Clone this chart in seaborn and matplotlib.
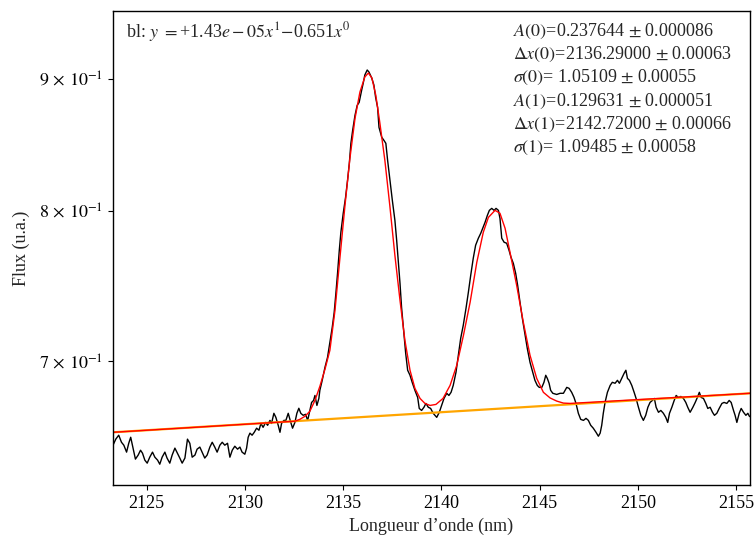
import numpy as np
import pandas as pd
import seaborn as sns
import matplotlib
matplotlib.use("Agg")
from matplotlib import pyplot as plt
from matplotlib.ticker import NullLocator

wl = [2123.28, 2123.42, 2123.57, 2123.71, 2123.83, 2123.97, 2124.08, 2124.18, 2124.30, 2124.42,
      2124.56, 2124.68, 2124.78, 2124.90, 2125.02, 2125.15, 2125.29, 2125.41, 2125.55, 2125.66,
      2125.78, 2125.92, 2126.03, 2126.17, 2126.29, 2126.43, 2126.56, 2126.68, 2126.80, 2126.94,
      2127.07, 2127.19, 2127.31, 2127.45, 2127.56, 2127.70, 2127.84, 2127.95, 2128.07, 2128.21,
      2128.33, 2128.46, 2128.58, 2128.72, 2128.84, 2128.97, 2129.11, 2129.23, 2129.35, 2129.48,
      2129.62, 2129.74, 2129.85, 2129.99, 2130.08, 2130.16, 2130.25, 2130.36, 2130.47, 2130.59,
      2130.71, 2130.81, 2130.92, 2131.05, 2131.15, 2131.27, 2131.35, 2131.47, 2131.57, 2131.69,
      2131.78, 2131.86, 2131.98, 2132.08, 2132.20, 2132.30, 2132.42, 2132.54, 2132.64, 2132.74,
      2132.84, 2132.96, 2133.08, 2133.19, 2133.27, 2133.39, 2133.49, 2133.56, 2133.66, 2133.76,
      2133.81, 2133.93, 2134.07, 2134.20, 2134.32, 2134.44, 2134.54, 2134.63, 2134.71, 2134.80,
      2134.88, 2135.00, 2135.12, 2135.22, 2135.31, 2135.39, 2135.48, 2135.60, 2135.71, 2135.81,
      2135.94, 2136.02, 2136.10, 2136.22, 2136.31, 2136.45, 2136.56, 2136.65, 2136.75, 2136.82,
      2136.96, 2137.07, 2137.17, 2137.26, 2137.38, 2137.50, 2137.63, 2137.72, 2137.80, 2137.89,
      2137.97, 2138.09, 2138.18, 2138.28, 2138.40, 2138.51, 2138.65, 2138.79, 2138.87, 2138.99,
      2139.11, 2139.21, 2139.33, 2139.45, 2139.58, 2139.76, 2139.89, 2140.01, 2140.13, 2140.27,
      2140.38, 2140.49, 2140.60, 2140.74, 2140.86, 2140.98, 2141.11, 2141.25, 2141.37, 2141.49,
      2141.62, 2141.74, 2141.88, 2142.00, 2142.10, 2142.22, 2142.34, 2142.44, 2142.56, 2142.68,
      2142.78, 2142.90, 2142.98, 2143.07, 2143.19, 2143.32, 2143.44, 2143.54, 2143.66, 2143.78,
      2143.88, 2144.00, 2144.12, 2144.26, 2144.37, 2144.51, 2144.65, 2144.76, 2144.88, 2144.98,
      2145.11, 2145.22, 2145.31, 2145.39, 2145.48, 2145.56, 2145.67, 2145.87, 2146.04, 2146.21,
      2146.38, 2146.50, 2146.63, 2146.75, 2146.85, 2146.97, 2147.09, 2147.23, 2147.36, 2147.48,
      2147.60, 2147.73, 2147.87, 2147.99, 2148.08, 2148.16, 2148.24, 2148.33, 2148.45, 2148.59,
      2148.70, 2148.84, 2148.96, 2149.06, 2149.18, 2149.30, 2149.39, 2149.47, 2149.57, 2149.69,
      2149.81, 2149.91, 2150.03, 2150.15, 2150.28, 2150.40, 2150.51, 2150.62, 2150.74, 2150.84,
      2150.93, 2151.05, 2151.17, 2151.30, 2151.42, 2151.52, 2151.61, 2151.73, 2151.85, 2151.95,
      2152.06, 2152.19, 2152.32, 2152.44, 2152.54, 2152.66, 2152.80, 2152.92, 2153.03, 2153.13,
      2153.22, 2153.34, 2153.46, 2153.56, 2153.68, 2153.80, 2153.90, 2154.02, 2154.14, 2154.28,
      2154.39, 2154.53, 2154.65, 2154.75, 2154.87, 2154.95, 2155.04, 2155.16, 2155.26, 2155.38,
      2155.50, 2155.60, 2155.68, 2155.80]
flux = [0.6497, 0.6532, 0.6555, 0.6514, 0.6497, 0.6457, 0.6508, 0.6543, 0.6480, 0.6417,
        0.6440, 0.6468, 0.6451, 0.6411, 0.6394, 0.6428, 0.6457, 0.6428, 0.6411, 0.6388,
        0.6428, 0.6457, 0.6423, 0.6394, 0.6440, 0.6480, 0.6451, 0.6423, 0.6394, 0.6423,
        0.6532, 0.6508, 0.6428, 0.6440, 0.6474, 0.6486, 0.6451, 0.6423, 0.6440, 0.6486,
        0.6514, 0.6486, 0.6457, 0.6497, 0.6514, 0.6497, 0.6508, 0.6428, 0.6468, 0.6491,
        0.6474, 0.6486, 0.6457, 0.6445, 0.6480, 0.6543, 0.6567, 0.6555, 0.6572, 0.6596,
        0.6584, 0.6624, 0.6601, 0.6630, 0.6613, 0.6642, 0.6624, 0.6684, 0.6660, 0.6613,
        0.6572, 0.6624, 0.6642, 0.6642, 0.6684, 0.6642, 0.6596, 0.6630, 0.6684, 0.6714,
        0.6684, 0.6672, 0.6678, 0.6642, 0.6684, 0.6749, 0.6761, 0.6791, 0.6731, 0.6773,
        0.6822, 0.6883, 0.6963, 0.7025, 0.7120, 0.7215, 0.7312, 0.7443, 0.7570, 0.7728,
        0.7852, 0.7986, 0.8101, 0.8224, 0.8349, 0.8499, 0.8598, 0.8714, 0.8791, 0.8814,
        0.8912, 0.8968, 0.9032, 0.9072, 0.9056, 0.9008, 0.8952, 0.8853, 0.8775, 0.8621,
        0.8545, 0.8522, 0.8499, 0.8371, 0.8224, 0.8079, 0.7937, 0.7797, 0.7659, 0.7504,
        0.7345, 0.7177, 0.7050, 0.6945, 0.6914, 0.6871, 0.6822, 0.6779, 0.6713, 0.6701,
        0.6720, 0.6743, 0.6720, 0.6713, 0.6684, 0.6660, 0.6690, 0.6731, 0.6773, 0.6804,
        0.6791, 0.6810, 0.6852, 0.6932, 0.7038, 0.7145, 0.7228, 0.7338, 0.7443, 0.7557,
        0.7673, 0.7762, 0.7811, 0.7845, 0.7880, 0.7922, 0.7972, 0.8007, 0.8021, 0.8007,
        0.8021, 0.8007, 0.7950, 0.7811, 0.7783, 0.7776, 0.7728, 0.7680, 0.7638, 0.7570,
        0.7490, 0.7378, 0.7273, 0.7164, 0.7082, 0.6994, 0.6932, 0.6883, 0.6852, 0.6840,
        0.6840, 0.6871, 0.6914, 0.6895, 0.6865, 0.6822, 0.6804, 0.6797, 0.6804, 0.6804,
        0.6840, 0.6834, 0.6810, 0.6779, 0.6743, 0.6684, 0.6648, 0.6642, 0.6654, 0.6642,
        0.6613, 0.6596, 0.6572, 0.6549, 0.6567, 0.6613, 0.6684, 0.6749, 0.6810, 0.6852,
        0.6871, 0.6865, 0.6883, 0.6865, 0.6895, 0.6926, 0.6945, 0.6895, 0.6883, 0.6852,
        0.6810, 0.6773, 0.6720, 0.6672, 0.6642, 0.6672, 0.6720, 0.6749, 0.6761, 0.6773,
        0.6720, 0.6690, 0.6701, 0.6684, 0.6660, 0.6630, 0.6684, 0.6720, 0.6761, 0.6791,
        0.6779, 0.6785, 0.6773, 0.6749, 0.6720, 0.6690, 0.6720, 0.6749, 0.6779, 0.6810,
        0.6779, 0.6773, 0.6743, 0.6713, 0.6720, 0.6690, 0.6672, 0.6684, 0.6713, 0.6743,
        0.6749, 0.6743, 0.6761, 0.6749, 0.6701, 0.6672, 0.6630, 0.6684, 0.6713, 0.6690,
        0.6672, 0.6684, 0.6666, 0.6660]

# ajustement (2 gaussiennes + ligne de base)
fit_wl = [2123.0, 2132.54, 2132.79, 2133.05, 2133.30, 2133.56, 2133.81, 2134.07, 2134.32, 2134.58,
          2134.83, 2135.09, 2135.34, 2135.60, 2135.85, 2136.10, 2136.28, 2136.46, 2136.66, 2136.86,
          2137.12, 2137.37, 2137.63, 2137.89, 2138.14, 2138.40, 2138.65, 2138.91, 2139.16, 2139.42,
          2139.72, 2140.08, 2140.44, 2140.78, 2141.12, 2141.46, 2141.80, 2142.13, 2142.39, 2142.73,
          2142.98, 2143.24, 2143.49, 2143.83, 2144.17, 2144.51, 2144.85, 2145.19, 2145.53, 2145.87,
          2146.21, 2146.55, 2156.0]
fit_flux = [0.6570, 0.6637, 0.6648, 0.6666, 0.6696, 0.6761, 0.6846, 0.6951, 0.7069, 0.7325,
            0.7673, 0.8043, 0.8386, 0.8690, 0.8896, 0.9016, 0.9048, 0.9008, 0.8869, 0.8660,
            0.8371, 0.8043, 0.7693, 0.7391, 0.7132, 0.6945, 0.6834, 0.6773, 0.6743, 0.6731,
            0.6737, 0.6773, 0.6852, 0.6976, 0.7164, 0.7378, 0.7645, 0.7852, 0.7957, 0.8007,
            0.7986, 0.7880, 0.7714, 0.7490, 0.7247, 0.7038, 0.6895, 0.6810, 0.6776, 0.6757,
            0.6745, 0.6743, 0.6806]

# ligne de base
bl_wl = [2123.0, 2156.0]
bl_flux = [0.6570, 0.6806]

yticks = [0.7, 0.8, 0.9]
ytick_labels = [r"$7\,\times\,10^{-1}$", r"$8\,\times\,10^{-1}$", r"$9\,\times\,10^{-1}$"]
xticks = [2125, 2130, 2135, 2140, 2145, 2150, 2155]

bl_label = r"bl: $y\ =$+1.43$e-05x^{1}$$-$0.651$x^{0}$"
params = [r"$A(0)$=0.237644 $\pm$ 0.000086",
          r"$\Delta x(0)$=2136.29000 $\pm$ 0.00063",
          r"$\sigma(0)$= 1.05109 $\pm$ 0.00055",
          r"$A(1)$=0.129631 $\pm$ 0.000051",
          r"$\Delta x(1)$=2142.72000 $\pm$ 0.00066",
          r"$\sigma(1)$= 1.09485 $\pm$ 0.00058"]

sns.set_style("ticks")
plt.rcParams['font.family'] = ['Liberation Serif', 'DejaVu Serif']
plt.rcParams['mathtext.fontset'] = 'stix'
plt.rcParams['font.size'] = 13

fig, ax = plt.subplots(figsize=(7.55, 5.4), dpi=100)
fig.subplots_adjust(left=0.1497, right=0.9934, top=0.9796, bottom=0.1019)

sns.lineplot(x=wl, y=flux, ax=ax, color="black", lw=1, estimator=None, sort=False)
sns.lineplot(x=bl_wl, y=bl_flux, ax=ax, color="orange", lw=1.6, estimator=None, sort=False)
sns.lineplot(x=fit_wl, y=fit_flux, ax=ax, color="red", lw=1, estimator=None, sort=False)

ax.set_yscale("log")
ax.set_xlim(2123.28, 2155.71)
ax.set_ylim(0.6271, 0.9561)
ax.set_xticks(xticks)
ax.set_yticks(yticks, ytick_labels)
ax.yaxis.set_minor_locator(NullLocator())
for s in ax.spines.values():
    s.set_color("black")
    s.set_linewidth(1)
ax.tick_params(colors="black", labelsize=13)

ax.set_xlabel("Longueur d\u2019onde (nm)", fontsize=13)
ax.set_ylabel("Flux (u.a.)", fontsize=13)
ax.yaxis.set_label_coords(-0.130, 0.5)

ax.text(0.02, 0.981, bl_label, transform=ax.transAxes, va="top", ha="left", fontsize=13)
ax.text(0.628, 0.978, "\n".join(params), transform=ax.transAxes, va="top", ha="left",
        fontsize=13, linespacing=1.3)

fig.savefig("out.png", dpi=100)
